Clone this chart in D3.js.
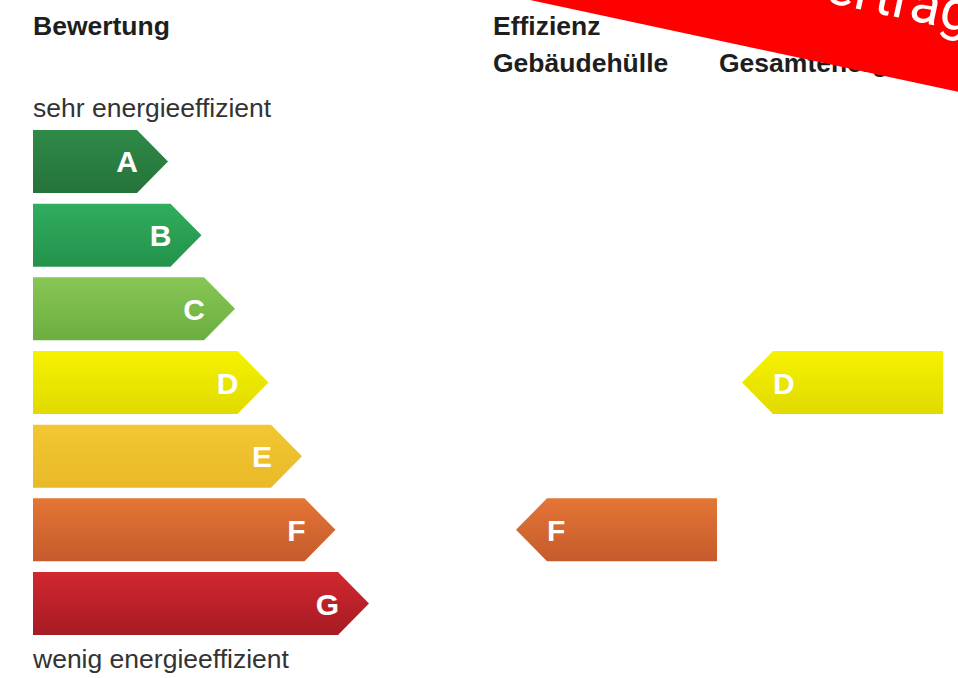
<!DOCTYPE html>
<html>
<head>
<meta charset="utf-8">
<script src="https://cdn.jsdelivr.net/npm/d3@7"></script>
<style>
  html, body { margin: 0; padding: 0; background: #fff; }
  text { font-family: "Liberation Sans", Arial, sans-serif; }
</style>
</head>
<body>
<div id="chart"></div>
<script>
// Energy classes and their colours (top / bottom of the gradient)
var classes = ["A", "B", "C", "D", "E", "F", "G"];
var classRank = [1, 2, 3, 4, 5, 6, 7];
var colorTop = ["#2e8a47", "#31ad5e", "#88c655", "#f6f200", "#f3c633", "#e47535", "#d2272f"];
var colorBottom = ["#25733b", "#23924b", "#6bae3f", "#e0da00", "#e9b928", "#c55b2c", "#a61b23"];

// Rated efficiency per column
var columns = ["Gebäudehülle", "Gesamtenergie"];
var ratings = ["F", "D"];

var width = 958, height = 678;

var svg = d3.select("#chart").append("svg")
    .attr("width", width)
    .attr("height", height);

// Scales
var y = d3.scaleBand()
    .domain(classes)
    .range([130, 635])
    .paddingInner(0.145)
    .paddingOuter(0);

var x = d3.scaleLinear()
    .domain([1, 7])
    .range([137, 338]);

var colX = d3.scaleOrdinal()
    .domain(columns)
    .range([547, 773]);

var leftX = 33, tip = 31, indicatorW = 170;

// Gradients
var defs = svg.append("defs");
classes.forEach(function(c, i) {
  var g = defs.append("linearGradient")
      .attr("id", "grad_" + c)
      .attr("x1", 0).attr("x2", 0).attr("y1", 0).attr("y2", 1);
  g.append("stop").attr("offset", "0%").attr("stop-color", colorTop[i]);
  g.append("stop").attr("offset", "100%").attr("stop-color", colorBottom[i]);
});

// Headers
svg.append("text")
    .attr("x", leftX).attr("y", 35)
    .style("font-size", "26.5px").style("font-weight", "bold").style("fill", "#1e1e1e")
    .text("Bewertung");

svg.append("text")
    .attr("x", 493).attr("y", 35)
    .style("font-size", "26.5px").style("font-weight", "bold").style("fill", "#1e1e1e")
    .text("Effizienz");

svg.selectAll("text.colhead")
    .data(columns)
  .enter().append("text")
    .attr("class", "colhead")
    .attr("x", function(d) { return colX(d) - 54; })
    .attr("y", 72)
    .style("font-size", "26.5px").style("font-weight", "bold").style("fill", "#1e1e1e")
    .text(function(d) { return d; });

svg.append("text")
    .attr("x", leftX).attr("y", 117)
    .style("font-size", "26.5px").style("fill", "#333")
    .text("sehr energieeffizient");

svg.append("text")
    .attr("x", leftX).attr("y", 668)
    .style("font-size", "26.5px").style("fill", "#333")
    .text("wenig energieeffizient");

// Scale arrows (pointing right)
function arrowRight(d, i) {
  var y0 = y(d), h = y.bandwidth(), xe = x(classRank[i]);
  return "M" + leftX + "," + y0 + "H" + xe + "L" + (xe + tip) + "," + (y0 + h / 2) +
         "L" + xe + "," + (y0 + h) + "H" + leftX + "Z";
}

svg.selectAll("path.cls")
    .data(classes)
  .enter().append("path")
    .attr("class", "cls")
    .attr("d", arrowRight)
    .style("fill", function(d) { return "url(#grad_" + d + ")"; });

svg.selectAll("text.clsLabel")
    .data(classes)
  .enter().append("text")
    .attr("class", "clsLabel")
    .attr("x", function(d, i) { return x(classRank[i]) + 1; })
    .attr("y", function(d) { return y(d) + y.bandwidth() / 2 + 11; })
    .attr("text-anchor", "end")
    .style("font-size", "30px").style("font-weight", "bold").style("fill", "#fff")
    .text(function(d) { return d; });

// Rating indicators (pointing left)
function arrowLeft(d, i) {
  var c = ratings[i], y0 = y(c), h = y.bandwidth(), xs = colX(d);
  return "M" + (xs + indicatorW) + "," + y0 + "H" + xs + "L" + (xs - tip) + "," + (y0 + h / 2) +
         "L" + xs + "," + (y0 + h) + "H" + (xs + indicatorW) + "Z";
}

svg.selectAll("path.rating")
    .data(columns)
  .enter().append("path")
    .attr("class", "rating")
    .attr("d", arrowLeft)
    .style("fill", function(d, i) { return "url(#grad_" + ratings[i] + ")"; });

svg.selectAll("text.ratingLabel")
    .data(columns)
  .enter().append("text")
    .attr("class", "ratingLabel")
    .attr("x", function(d) { return colX(d); })
    .attr("y", function(d, i) { return y(ratings[i]) + y.bandwidth() / 2 + 11; })
    .style("font-size", "30px").style("font-weight", "bold").style("fill", "#fff")
    .text(function(d, i) { return ratings[i]; });

// Red banner across the top right corner
var banner = svg.append("g")
    .attr("transform", "translate(530,0) rotate(12.1)");

banner.append("rect")
    .attr("x", -100).attr("y", -200)
    .attr("width", 800).attr("height", 200)
    .style("fill", "#ff0000");

banner.append("text")
    .attr("x", 435).attr("y", -60)
    .attr("text-anchor", "end")
    .style("font-family", "Roboto, sans-serif")
    .style("font-size", "56px")
    .style("fill", "#fff")
    .text("Vertrag");
</script>
</body>
</html>
